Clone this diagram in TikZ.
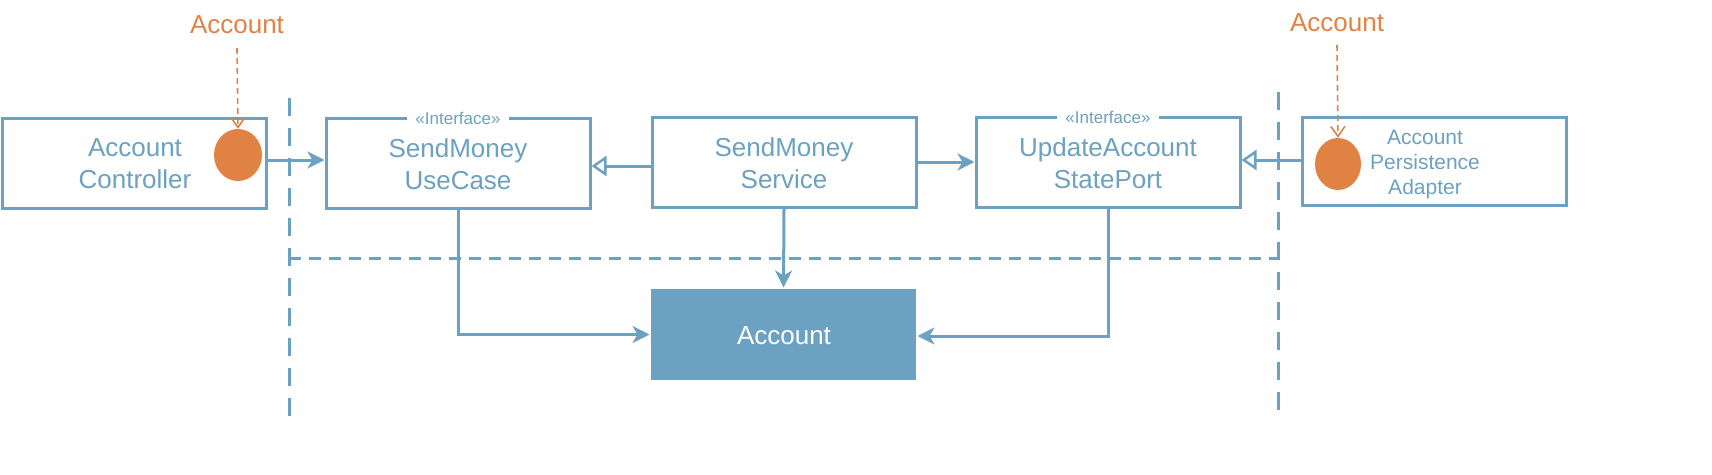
\documentclass[tikz,border=0pt]{standalone}
\usepackage{fontspec}
\setmainfont{Liberation Sans}
\usetikzlibrary{arrows.meta,shapes.geometric}
\definecolor{ublue}{RGB}{108,161,193}
\definecolor{uorange}{RGB}{224,130,68}
\tikzset{
  box/.style={draw=ublue,line width=3pt,minimum width=264pt,minimum height=90pt,inner sep=0pt,fill=white},
  lbl/.style={text=ublue,font=\fontsize{26}{32}\selectfont,align=center,inner sep=0pt},
  stereo/.style={fill=white,text=ublue,font=\fontsize{17}{18}\selectfont,inner xsep=8pt,inner ysep=2pt},
  arr/.style={draw=ublue,line width=3pt,-{Stealth[length=17pt,width=17pt,inset=5pt]}},
  impl/.style={draw=ublue,line width=3pt,-{Triangle[open,length=15pt,width=20pt,line width=2.5pt]}},
  sep/.style={draw=ublue,line width=3pt,dash pattern=on 18pt off 12pt},
  hsep/.style={draw=ublue,line width=3pt,dash pattern=on 12pt off 8pt},
  port/.style={ellipse,fill=uorange,inner sep=0pt},
  olbl/.style={text=uorange,font=\fontsize{26}{28}\selectfont,inner sep=0pt},
  oarr/.style={draw=uorange,line width=1.6pt,dash pattern=on 6pt off 4pt,-{Straight Barb[length=10pt,width=14pt]}}
}
\begin{document}
\begin{tikzpicture}[x=1pt,y=-1pt]
\useasboundingbox (0,0) rectangle (1712,474);
% boxes
\node[box] (ctrl) at (134,163) {};
\node[lbl] (ctrltxt) at (135,164) {Account\\Controller};
\node[box] (usecase) at (458,163) {};
\node[stereo] (uster) at (458,118) {\guillemotleft Interface\guillemotright};
\node[lbl] (usetxt) at (458,164) {SendMoney\\UseCase};
\node[box] (service) at (784,162) {};
\node[lbl] (servtxt) at (784,163) {SendMoney\\Service};
\node[box] (portb) at (1108,162) {};
\node[stereo] (pster) at (1108,117) {\guillemotleft Interface\guillemotright};
\node[lbl] (porttxt) at (1108,163) {UpdateAccount\\StatePort};
\node[box,minimum height=88pt] (adapter) at (1434,161) {};
\node[lbl,font=\fontsize{21}{25}\selectfont] (adtxt) at (1425,164) {Account\\Persistence\\Adapter};
\node[box,fill=ublue,draw=none,minimum width=265pt,minimum height=91pt] (account) at (783.5,334.5) {};
\node[lbl,text=white] (acctxt) at (784,336) {Account};
% ports
\node[port,minimum width=48pt,minimum height=52pt] (cport) at (238,155) {};
\node[port,minimum width=46pt,minimum height=52pt] (aport) at (1338,164) {};
\node[olbl] (ol1) at (237,25) {Account};
\node[olbl] (ol2) at (1337,23) {Account};
\coordinate (o1) at (237,48);
\coordinate (o2) at (1337,45);
\draw[oarr] (o1) -- (cport.north);
\draw[oarr] (o2) -- (aport.north);
% separators
\coordinate (v1t) at (289,98);
\coordinate (v1b) at (289,420);
\coordinate (v2t) at (1278,92);
\coordinate (v2b) at (1278,415);
\coordinate (hl) at (289,258);
\coordinate (hr) at (1278,258);
\draw[sep] (v1t) -- (v1b);
\draw[sep] (v2t) -- (v2b);
\draw[hsep] (hl) -- (hr);
% connectors
\draw[arr] ([yshift=3pt]ctrl.east) -- ([yshift=3pt]usecase.west);
\draw[impl] ([yshift=-4pt]service.west) -- ([yshift=-3pt]usecase.east);
\draw[arr] (service.east) -- (portb.west);
\draw[impl] ([yshift=1pt]adapter.west) -- ([yshift=2pt]portb.east);
\draw[arr] (usecase.south) |- (account.west);
\draw[arr] (service.south) -- (account.north);
\draw[arr] (portb.south) |- ([yshift=-1.5pt]account.east);
\end{tikzpicture}
\end{document}
